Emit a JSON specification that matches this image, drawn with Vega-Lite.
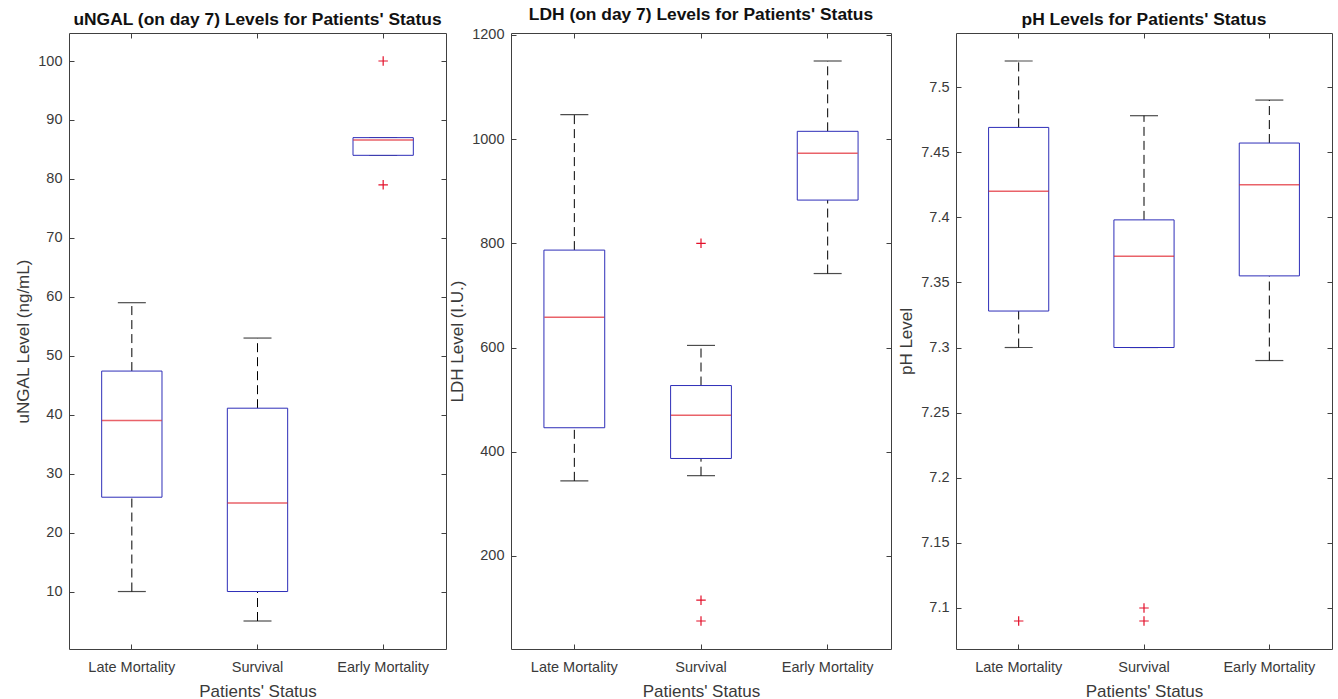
{
  "$schema": "https://vega.github.io/schema/vega-lite/v6.json",
  "background": "#ffffff",
  "padding": {"left": 14, "top": 5, "right": 5, "bottom": 0},
  "datasets": {
    "b1": [
      {"status": "Late Mortality", "lo": 10, "q1": 26, "med": 39, "q3": 47.4, "hi": 59},
      {"status": "Survival", "lo": 5, "q1": 10, "med": 25, "q3": 41.1, "hi": 53},
      {"status": "Early Mortality", "lo": 84, "q1": 84, "med": 86.6, "q3": 87, "hi": 87}
    ],
    "o1": [
      {"status": "Early Mortality", "value": 100},
      {"status": "Early Mortality", "value": 79}
    ],
    "b2": [
      {"status": "Late Mortality", "lo": 344, "q1": 446, "med": 658, "q3": 787, "hi": 1047},
      {"status": "Survival", "lo": 354, "q1": 387, "med": 470, "q3": 527, "hi": 604},
      {"status": "Early Mortality", "lo": 742, "q1": 883, "med": 973, "q3": 1015, "hi": 1150}
    ],
    "o2": [
      {"status": "Survival", "value": 800},
      {"status": "Survival", "value": 115},
      {"status": "Survival", "value": 75}
    ],
    "b3": [
      {"status": "Late Mortality", "lo": 7.3, "q1": 7.328, "med": 7.42, "q3": 7.469, "hi": 7.52},
      {"status": "Survival", "lo": 7.3, "q1": 7.3, "med": 7.37, "q3": 7.398, "hi": 7.478},
      {"status": "Early Mortality", "lo": 7.29, "q1": 7.355, "med": 7.425, "q3": 7.457, "hi": 7.49}
    ],
    "o3": [
      {"status": "Late Mortality", "value": 7.09},
      {"status": "Survival", "value": 7.1},
      {"status": "Survival", "value": 7.09}
    ]
  },
  "hconcat": [
    {
      "width": 377,
      "height": 616,
      "title": {"text": "uNGAL (on day 7) Levels for Patients' Status"},
      "resolve": {"axis": {"x": "independent", "y": "independent"}},
      "layer": [
        {"data": {"name": "b1"}, "mark": {"type": "rule", "color": "#000000", "strokeDash": [9, 5], "strokeWidth": 1},
         "encoding": {"x": {"field": "status", "type": "nominal", "sort": null, "axis": null, "scale": {"type": "band", "domain": ["Late Mortality", "Survival", "Early Mortality"], "paddingInner": 0.52, "paddingOuter": 0.26}},
                      "y": {"field": "q3", "type": "quantitative", "axis": null, "scale": {"domain": [0.25, 104.75], "nice": false, "zero": false}}, "y2": {"field": "hi"}}},
        {"data": {"name": "b1"}, "mark": {"type": "rule", "color": "#000000", "strokeDash": [9, 5], "strokeWidth": 1},
         "encoding": {"x": {"field": "status", "type": "nominal", "sort": null, "axis": null, "scale": {"type": "band", "domain": ["Late Mortality", "Survival", "Early Mortality"], "paddingInner": 0.52, "paddingOuter": 0.26}},
                      "y": {"field": "lo", "type": "quantitative", "axis": null, "scale": {"domain": [0.25, 104.75], "nice": false, "zero": false}}, "y2": {"field": "q1"}}},
        {"data": {"name": "b1"}, "mark": {"type": "tick", "color": "#000000", "size": 28, "thickness": 1.2, "orient": "horizontal"},
         "encoding": {"x": {"field": "status", "type": "nominal", "sort": null, "axis": null, "scale": {"type": "band", "domain": ["Late Mortality", "Survival", "Early Mortality"], "paddingInner": 0.52, "paddingOuter": 0.26}},
                      "y": {"field": "hi", "type": "quantitative", "axis": null, "scale": {"domain": [0.25, 104.75], "nice": false, "zero": false}}}},
        {"data": {"name": "b1"}, "mark": {"type": "tick", "color": "#000000", "size": 28, "thickness": 1.2, "orient": "horizontal"},
         "encoding": {"x": {"field": "status", "type": "nominal", "sort": null, "axis": null, "scale": {"type": "band", "domain": ["Late Mortality", "Survival", "Early Mortality"], "paddingInner": 0.52, "paddingOuter": 0.26}},
                      "y": {"field": "lo", "type": "quantitative", "axis": null, "scale": {"domain": [0.25, 104.75], "nice": false, "zero": false}}}},
        {"data": {"name": "b1"}, "mark": {"type": "bar", "fill": "#ffffff", "stroke": "#2e2eb8", "strokeWidth": 1},
         "encoding": {"x": {"field": "status", "type": "nominal", "sort": null, "title": "Patients' Status", "axis": {"orient": "bottom", "labelAngle": 0, "bandPosition": 0.5, "tickSize": -5, "labelPadding": 16, "titlePadding": 10, "domain": false, "grid": false}, "scale": {"type": "band", "domain": ["Late Mortality", "Survival", "Early Mortality"], "paddingInner": 0.52, "paddingOuter": 0.26}},
                      "y": {"field": "q1", "type": "quantitative", "title": "uNGAL Level (ng/mL)", "axis": {"orient": "left", "values": [10, 20, 30, 40, 50, 60, 70, 80, 90, 100], "tickSize": -5, "labelPadding": 12, "titlePadding": 5, "domain": false, "grid": false}, "scale": {"domain": [0.25, 104.75], "nice": false, "zero": false}},
                      "y2": {"field": "q3"}}},
        {"data": {"name": "b1"}, "mark": {"type": "tick", "color": "#e0202a", "size": 60, "thickness": 1.5, "orient": "horizontal"},
         "encoding": {"x": {"field": "status", "type": "nominal", "sort": null, "axis": null, "scale": {"type": "band", "domain": ["Late Mortality", "Survival", "Early Mortality"], "paddingInner": 0.52, "paddingOuter": 0.26}},
                      "y": {"field": "med", "type": "quantitative", "axis": null, "scale": {"domain": [0.25, 104.75], "nice": false, "zero": false}}}},
        {"data": {"name": "o1"}, "mark": {"type": "point", "shape": "M-1,0L1,0M0,-1L0,1", "filled": false, "stroke": "#e3102a", "strokeWidth": 1.2, "size": 90, "opacity": 1},
         "encoding": {"x": {"field": "status", "type": "nominal", "sort": null, "title": null, "axis": {"orient": "top", "labels": false, "bandPosition": 0.5, "tickSize": -5, "domain": false, "grid": false}, "scale": {"type": "band", "domain": ["Late Mortality", "Survival", "Early Mortality"], "paddingInner": 0.52, "paddingOuter": 0.26}},
                      "y": {"field": "value", "type": "quantitative", "title": null, "axis": {"orient": "right", "labels": false, "values": [10, 20, 30, 40, 50, 60, 70, 80, 90, 100], "tickSize": -5, "domain": false, "grid": false}, "scale": {"domain": [0.25, 104.75], "nice": false, "zero": false}}}}
      ]
    },
    {
      "width": 380,
      "height": 616,
      "title": {"text": "LDH (on day 7) Levels for Patients' Status"},
      "resolve": {"axis": {"x": "independent", "y": "independent"}},
      "layer": [
        {"data": {"name": "b2"}, "mark": {"type": "rule", "color": "#000000", "strokeDash": [9, 5], "strokeWidth": 1},
         "encoding": {"x": {"field": "status", "type": "nominal", "sort": null, "axis": null, "scale": {"type": "band", "domain": ["Late Mortality", "Survival", "Early Mortality"], "paddingInner": 0.52, "paddingOuter": 0.26}},
                      "y": {"field": "q3", "type": "quantitative", "axis": null, "scale": {"domain": [21.25, 1203.75], "nice": false, "zero": false}}, "y2": {"field": "hi"}}},
        {"data": {"name": "b2"}, "mark": {"type": "rule", "color": "#000000", "strokeDash": [9, 5], "strokeWidth": 1},
         "encoding": {"x": {"field": "status", "type": "nominal", "sort": null, "axis": null, "scale": {"type": "band", "domain": ["Late Mortality", "Survival", "Early Mortality"], "paddingInner": 0.52, "paddingOuter": 0.26}},
                      "y": {"field": "lo", "type": "quantitative", "axis": null, "scale": {"domain": [21.25, 1203.75], "nice": false, "zero": false}}, "y2": {"field": "q1"}}},
        {"data": {"name": "b2"}, "mark": {"type": "tick", "color": "#000000", "size": 28, "thickness": 1.2, "orient": "horizontal"},
         "encoding": {"x": {"field": "status", "type": "nominal", "sort": null, "axis": null, "scale": {"type": "band", "domain": ["Late Mortality", "Survival", "Early Mortality"], "paddingInner": 0.52, "paddingOuter": 0.26}},
                      "y": {"field": "hi", "type": "quantitative", "axis": null, "scale": {"domain": [21.25, 1203.75], "nice": false, "zero": false}}}},
        {"data": {"name": "b2"}, "mark": {"type": "tick", "color": "#000000", "size": 28, "thickness": 1.2, "orient": "horizontal"},
         "encoding": {"x": {"field": "status", "type": "nominal", "sort": null, "axis": null, "scale": {"type": "band", "domain": ["Late Mortality", "Survival", "Early Mortality"], "paddingInner": 0.52, "paddingOuter": 0.26}},
                      "y": {"field": "lo", "type": "quantitative", "axis": null, "scale": {"domain": [21.25, 1203.75], "nice": false, "zero": false}}}},
        {"data": {"name": "b2"}, "mark": {"type": "bar", "fill": "#ffffff", "stroke": "#2e2eb8", "strokeWidth": 1},
         "encoding": {"x": {"field": "status", "type": "nominal", "sort": null, "title": "Patients' Status", "axis": {"orient": "bottom", "labelAngle": 0, "bandPosition": 0.5, "tickSize": -5, "labelPadding": 16, "titlePadding": 10, "domain": false, "grid": false}, "scale": {"type": "band", "domain": ["Late Mortality", "Survival", "Early Mortality"], "paddingInner": 0.52, "paddingOuter": 0.26}},
                      "y": {"field": "q1", "type": "quantitative", "title": "LDH Level (I.U.)", "axis": {"orient": "left", "values": [200, 400, 600, 800, 1000, 1200], "format": "d", "tickSize": -5, "labelPadding": 12, "titlePadding": 5, "domain": false, "grid": false}, "scale": {"domain": [21.25, 1203.75], "nice": false, "zero": false}},
                      "y2": {"field": "q3"}}},
        {"data": {"name": "b2"}, "mark": {"type": "tick", "color": "#e0202a", "size": 60, "thickness": 1.5, "orient": "horizontal"},
         "encoding": {"x": {"field": "status", "type": "nominal", "sort": null, "axis": null, "scale": {"type": "band", "domain": ["Late Mortality", "Survival", "Early Mortality"], "paddingInner": 0.52, "paddingOuter": 0.26}},
                      "y": {"field": "med", "type": "quantitative", "axis": null, "scale": {"domain": [21.25, 1203.75], "nice": false, "zero": false}}}},
        {"data": {"name": "o2"}, "mark": {"type": "point", "shape": "M-1,0L1,0M0,-1L0,1", "filled": false, "stroke": "#e3102a", "strokeWidth": 1.2, "size": 90, "opacity": 1},
         "encoding": {"x": {"field": "status", "type": "nominal", "sort": null, "title": null, "axis": {"orient": "top", "labels": false, "bandPosition": 0.5, "tickSize": -5, "domain": false, "grid": false}, "scale": {"type": "band", "domain": ["Late Mortality", "Survival", "Early Mortality"], "paddingInner": 0.52, "paddingOuter": 0.26}},
                      "y": {"field": "value", "type": "quantitative", "title": null, "axis": {"orient": "right", "labels": false, "values": [200, 400, 600, 800, 1000, 1200], "tickSize": -5, "domain": false, "grid": false}, "scale": {"domain": [21.25, 1203.75], "nice": false, "zero": false}}}}
      ]
    },
    {
      "width": 376,
      "height": 616,
      "title": {"text": "pH Levels for Patients' Status"},
      "resolve": {"axis": {"x": "independent", "y": "independent"}},
      "layer": [
        {"data": {"name": "b3"}, "mark": {"type": "rule", "color": "#000000", "strokeDash": [9, 5], "strokeWidth": 1},
         "encoding": {"x": {"field": "status", "type": "nominal", "sort": null, "axis": null, "scale": {"type": "band", "domain": ["Late Mortality", "Survival", "Early Mortality"], "paddingInner": 0.52, "paddingOuter": 0.26}},
                      "y": {"field": "q3", "type": "quantitative", "axis": null, "scale": {"domain": [7.0685, 7.5415], "nice": false, "zero": false}}, "y2": {"field": "hi"}}},
        {"data": {"name": "b3"}, "mark": {"type": "rule", "color": "#000000", "strokeDash": [9, 5], "strokeWidth": 1},
         "encoding": {"x": {"field": "status", "type": "nominal", "sort": null, "axis": null, "scale": {"type": "band", "domain": ["Late Mortality", "Survival", "Early Mortality"], "paddingInner": 0.52, "paddingOuter": 0.26}},
                      "y": {"field": "lo", "type": "quantitative", "axis": null, "scale": {"domain": [7.0685, 7.5415], "nice": false, "zero": false}}, "y2": {"field": "q1"}}},
        {"data": {"name": "b3"}, "mark": {"type": "tick", "color": "#000000", "size": 28, "thickness": 1.2, "orient": "horizontal"},
         "encoding": {"x": {"field": "status", "type": "nominal", "sort": null, "axis": null, "scale": {"type": "band", "domain": ["Late Mortality", "Survival", "Early Mortality"], "paddingInner": 0.52, "paddingOuter": 0.26}},
                      "y": {"field": "hi", "type": "quantitative", "axis": null, "scale": {"domain": [7.0685, 7.5415], "nice": false, "zero": false}}}},
        {"data": {"name": "b3"}, "mark": {"type": "tick", "color": "#000000", "size": 28, "thickness": 1.2, "orient": "horizontal"},
         "encoding": {"x": {"field": "status", "type": "nominal", "sort": null, "axis": null, "scale": {"type": "band", "domain": ["Late Mortality", "Survival", "Early Mortality"], "paddingInner": 0.52, "paddingOuter": 0.26}},
                      "y": {"field": "lo", "type": "quantitative", "axis": null, "scale": {"domain": [7.0685, 7.5415], "nice": false, "zero": false}}}},
        {"data": {"name": "b3"}, "mark": {"type": "bar", "fill": "#ffffff", "stroke": "#2e2eb8", "strokeWidth": 1},
         "encoding": {"x": {"field": "status", "type": "nominal", "sort": null, "title": "Patients' Status", "axis": {"orient": "bottom", "labelAngle": 0, "bandPosition": 0.5, "tickSize": -5, "labelPadding": 16, "titlePadding": 10, "domain": false, "grid": false}, "scale": {"type": "band", "domain": ["Late Mortality", "Survival", "Early Mortality"], "paddingInner": 0.52, "paddingOuter": 0.26}},
                      "y": {"field": "q1", "type": "quantitative", "title": "pH Level", "axis": {"orient": "left", "values": [7.1, 7.15, 7.2, 7.25, 7.3, 7.35, 7.4, 7.45, 7.5], "format": "~g", "tickSize": -5, "labelPadding": 12, "titlePadding": 5, "domain": false, "grid": false}, "scale": {"domain": [7.0685, 7.5415], "nice": false, "zero": false}},
                      "y2": {"field": "q3"}}},
        {"data": {"name": "b3"}, "mark": {"type": "tick", "color": "#e0202a", "size": 60, "thickness": 1.5, "orient": "horizontal"},
         "encoding": {"x": {"field": "status", "type": "nominal", "sort": null, "axis": null, "scale": {"type": "band", "domain": ["Late Mortality", "Survival", "Early Mortality"], "paddingInner": 0.52, "paddingOuter": 0.26}},
                      "y": {"field": "med", "type": "quantitative", "axis": null, "scale": {"domain": [7.0685, 7.5415], "nice": false, "zero": false}}}},
        {"data": {"name": "o3"}, "mark": {"type": "point", "shape": "M-1,0L1,0M0,-1L0,1", "filled": false, "stroke": "#e3102a", "strokeWidth": 1.2, "size": 90, "opacity": 1},
         "encoding": {"x": {"field": "status", "type": "nominal", "sort": null, "title": null, "axis": {"orient": "top", "labels": false, "bandPosition": 0.5, "tickSize": -5, "domain": false, "grid": false}, "scale": {"type": "band", "domain": ["Late Mortality", "Survival", "Early Mortality"], "paddingInner": 0.52, "paddingOuter": 0.26}},
                      "y": {"field": "value", "type": "quantitative", "title": null, "axis": {"orient": "right", "labels": false, "values": [7.1, 7.15, 7.2, 7.25, 7.3, 7.35, 7.4, 7.45, 7.5], "tickSize": -5, "domain": false, "grid": false}, "scale": {"domain": [7.0685, 7.5415], "nice": false, "zero": false}}}}
      ]
    }
  ],
  "spacing": 65,
  "bounds": "flush",
  "config": {
    "font": "Liberation Sans",
    "view": {"stroke": "#404040", "strokeWidth": 1},
    "title": {"font": "Liberation Sans", "fontSize": 17.4, "fontWeight": "bold", "color": "#111111", "anchor": "middle", "offset": 4},
    "axis": {
      "labelFont": "Liberation Sans",
      "labelFontSize": 14.5,
      "labelColor": "#3a3a3a",
      "titleFont": "Liberation Sans",
      "titleFontSize": 17,
      "titleFontWeight": "normal",
      "titleColor": "#3a3a3a",
      "tickColor": "#404040",
      "tickWidth": 1
    }
  }
}
